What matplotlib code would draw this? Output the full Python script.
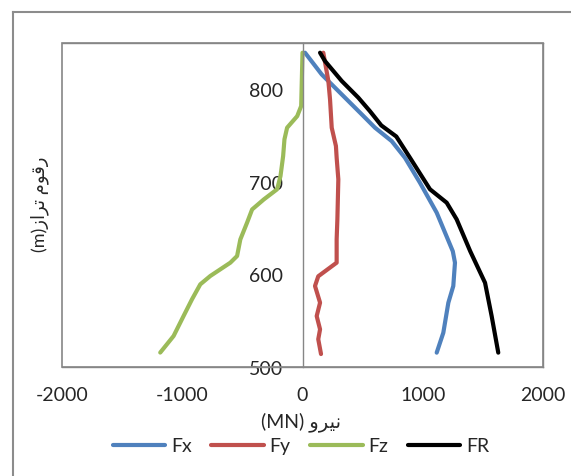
import matplotlib
matplotlib.use("Agg")
import matplotlib.pyplot as plt
from matplotlib.lines import Line2D
from matplotlib.patches import Rectangle

plt.rcParams['font.family'] = ['Lato', 'DejaVu Sans']
plt.rcParams['axes.unicode_minus'] = False

# elevation (m) / force (MN)
fx_elev = [839.5, 816, 791, 773, 758.5, 744, 726, 699, 666.7, 625, 612.7, 587.5, 569.5, 537, 515.5]
fx_val = [21, 160, 353, 492, 603, 742, 852, 977, 1116, 1250, 1268, 1254, 1213, 1171, 1116]

fy_elev = [839.5, 809, 789, 758.5, 738.7, 726, 702.7, 659.5, 638, 612.7, 598, 587.5, 569.5, 555, 540.7, 530, 514]
fy_val = [173, 215, 229, 243, 278, 284, 298, 290, 284, 284, 131, 104, 146, 118, 146, 131, 154]

fz_elev = [839.5, 781.9, 771, 758.5, 746, 727.9, 706.3, 692, 681, 670.2, 655.9, 637.8, 619.9,
           612.7, 598.3, 589.3, 573.1, 555.1, 533.5, 515.6]
fz_val = [0, -11, -44, -128, -150, -161, -183, -211, -322, -419, -461, -517, -544,
          -600, -767, -850, -919, -989, -1072, -1183]

fr_elev = [839.5, 830.5, 809, 791, 776.5, 761, 749, 726, 692, 677.5, 659.5, 625, 591, 555, 515.5]
fr_val = [146, 187, 326, 464, 560, 655, 780, 894, 1060, 1199, 1282, 1395, 1518, 1573, 1628]

x_ticks = [-2000, -1000, 0, 1000, 2000]
y_ticks = [500, 600, 700, 800]

series = [
    ("Fx", fx_val, fx_elev, "#4F81BD"),
    ("Fy", fy_val, fy_elev, "#C0504D"),
    ("Fz", fz_val, fz_elev, "#9BBB59"),
    ("FR", fr_val, fr_elev, "#000000"),
]

# Persian labels written in visual order with presentation forms
y_title = "(m)" + "\uFEAF\uFE8D\uFEAE\uFE97" + " " + "\uFEE1\uFEEE\uFED7\uFEAD"
x_title = "(MN) " + "\uFEED\uFEAE\uFEF4\uFEE7"

W, H = 571, 477
fig = plt.figure(figsize=(W / 100, H / 100), dpi=100)
ax = fig.add_axes([62 / W, 1 - 368 / H, (543 - 62) / W, (368 - 44) / H])

grey = '#868686'
for name, xv, yv, col in series:
    ax.plot(xv, yv, color=col, lw=3, solid_capstyle='round', solid_joinstyle='round', label=name)

ax.set_xlim(-2000, 2000)
ax.set_ylim(500, 850)
ax.set_xticks(x_ticks)
ax.set_yticks(y_ticks)
ax.spines['left'].set_position(('data', 0))
for s in ax.spines.values():
    s.set_color(grey)
    s.set_linewidth(1)
ax.add_patch(Rectangle((0, 0), 1, 1, transform=ax.transAxes, fill=False,
                       edgecolor=grey, lw=1.2, clip_on=False, zorder=5))
ax.tick_params(axis='both', length=0, labelsize=14, colors='#262626')
ax.tick_params(axis='y', pad=14)
ax.tick_params(axis='x', pad=14)

fig.text(301 / W, 1 - 422 / H, x_title, ha='center', va='center', fontsize=14, color='#262626')
fig.text(40 / W, 1 - 204 / H, y_title, ha='center', va='center', rotation=90, fontsize=13, color='#262626')

fig.legend(loc='center', bbox_to_anchor=(301 / W, 1 - 447 / H), ncol=4, frameon=False,
           fontsize=14, handlelength=2.7, handletextpad=0.3, columnspacing=1.0,
           labelcolor='#262626')

# outer chart frame (left and top edges visible)
fig.add_artist(Line2D([12.5 / W, 12.5 / W], [0, 1 - 12.5 / H], transform=fig.transFigure, color='#8c8c8c', lw=1.5))
fig.add_artist(Line2D([12.5 / W, 1], [1 - 12.5 / H, 1 - 12.5 / H], transform=fig.transFigure, color='#8c8c8c', lw=1.5))

fig.savefig('out.png', dpi=100, facecolor='white')
